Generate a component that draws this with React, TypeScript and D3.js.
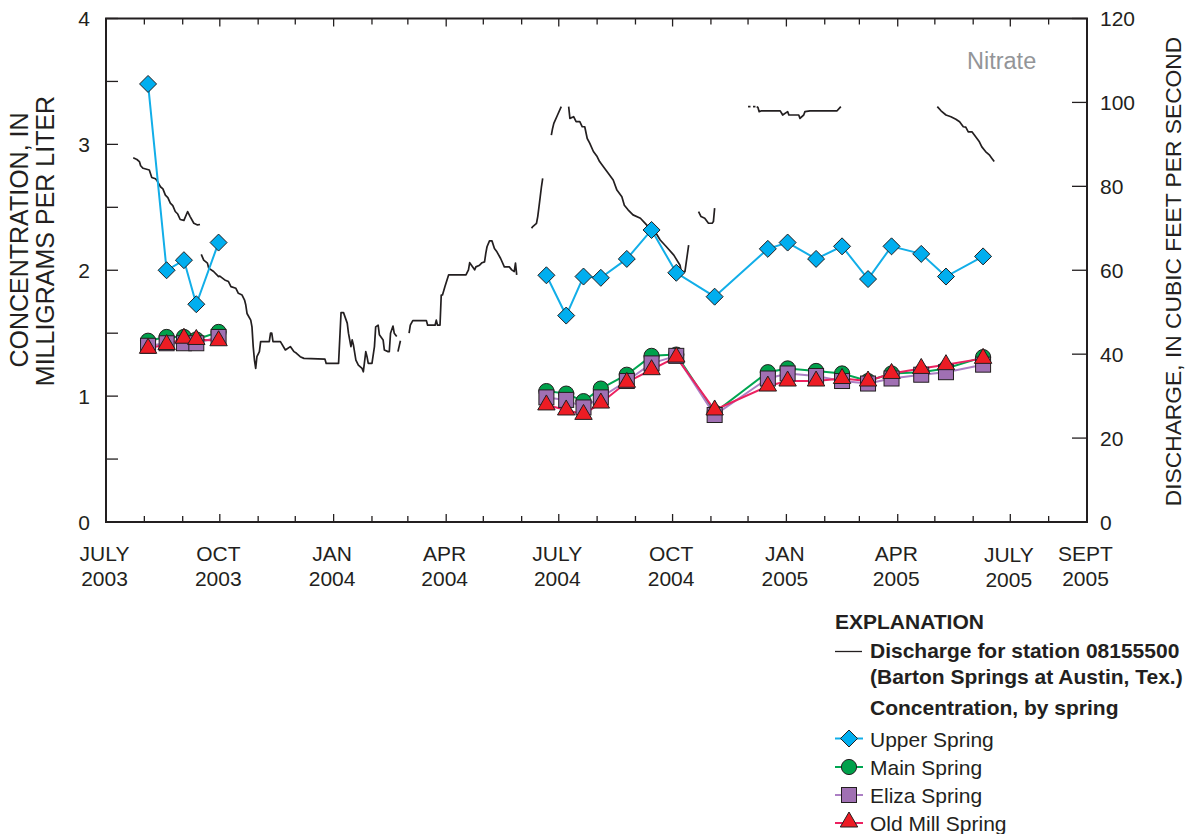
import React from "react";
import * as d3 from "d3";

const WIDTH = 1185;
const HEIGHT = 834;
const FONT = "'Liberation Sans', Arial, Helvetica, sans-serif";
const INK = "#231F20";

// Sampling dates for the spring-water samples
const samplingDates2003 = ["2003-08-04", "2003-08-19", "2003-09-02", "2003-09-12", "2003-09-30"];
const samplingDates2004 = [
  "2004-06-21", "2004-07-07", "2004-07-21", "2004-08-04", "2004-08-25", "2004-09-14",
  "2004-10-04", "2004-11-04", "2004-12-17", "2005-01-02", "2005-01-25", "2005-02-15",
  "2005-03-08", "2005-03-27", "2005-04-20", "2005-05-10", "2005-06-09",
];

// Nitrate concentration, in milligrams per liter
const upperSpring2003 = [3.48, 2.0, 2.08, 1.73, 2.22];
const mainSpring2003 = [1.44, 1.47, 1.47, 1.45, 1.51];
const elizaSpring2003 = [1.4, 1.42, 1.42, 1.42, 1.47];
const oldMillSpring2003 = [1.38, 1.41, 1.46, 1.45, 1.44];

const upperSpring2004 = [1.96, 1.64, 1.95, 1.94, 2.09, 2.32, 1.98, 1.79, 2.17, 2.22, 2.09, 2.19, 1.93, 2.19, 2.13, 1.95, 2.11];
const mainSpring2004 = [1.04, 1.02, 0.96, 1.06, 1.17, 1.32, 1.33, 0.87, 1.19, 1.22, 1.2, 1.18, 1.12, 1.18, 1.19, 1.22, 1.31];
const elizaSpring2004 = [0.99, 0.97, 0.91, 0.99, 1.12, 1.26, 1.32, 0.85, 1.14, 1.18, 1.16, 1.12, 1.1, 1.14, 1.17, 1.19, 1.25];
const oldMillSpring2004 = [0.93, 0.89, 0.855, 0.945, 1.11, 1.21, 1.31, 0.89, 1.08, 1.12, 1.12, 1.14, 1.12, 1.18, 1.22, 1.25, 1.3];

// Discharge at station 08155500, cubic feet per second (gaps = missing record)
const dischargeSummer2003: [string, number][] = [
  ["2003-07-23", 86.8], ["2003-07-26", 86.4], ["2003-07-28", 85.9], ["2003-07-29", 84.9], ["2003-07-31", 84.3],
  ["2003-08-05", 83.9], ["2003-08-07", 82.1], ["2003-08-10", 81.8], ["2003-08-11", 81.5], ["2003-08-14", 79.9],
  ["2003-08-16", 79.4], ["2003-08-18", 77.9], ["2003-08-20", 77.3], ["2003-08-22", 76.0], ["2003-08-24", 75.4],
  ["2003-08-26", 74.0], ["2003-08-28", 73.4], ["2003-08-30", 72.1], ["2003-09-02", 71.9], ["2003-09-05", 74.0],
  ["2003-09-07", 72.8], ["2003-09-10", 71.2], ["2003-09-13", 70.8], ["2003-09-15", 70.9],
];
const dischargeWinter2003: [string, number][] = [
  ["2003-09-16", 63.8], ["2003-09-18", 62.4], ["2003-09-21", 61.7], ["2003-09-22", 60.5], ["2003-09-26", 59.7],
  ["2003-09-30", 58.5], ["2003-10-01", 58.6], ["2003-10-05", 57.7], ["2003-10-08", 57.3], ["2003-10-10", 56.1],
  ["2003-10-14", 55.7], ["2003-10-16", 54.5], ["2003-10-19", 54.1], ["2003-10-21", 52.9], ["2003-10-22", 51.7],
  ["2003-10-23", 49.7], ["2003-10-26", 48.1], ["2003-10-27", 46.5], ["2003-10-28", 41.8], ["2003-10-29", 38.6],
  ["2003-10-30", 36.6], ["2003-10-31", 39.4], ["2003-11-02", 40.6], ["2003-11-03", 43.0], ["2003-11-10", 43.0],
  ["2003-11-11", 45.0], ["2003-11-12", 45.0], ["2003-11-13", 43.0], ["2003-11-19", 43.0], ["2003-11-23", 41.0],
  ["2003-11-27", 41.8], ["2003-11-30", 40.6], ["2003-12-02", 40.2], ["2003-12-05", 39.4], ["2003-12-08", 39.0],
  ["2003-12-25", 38.8], ["2003-12-26", 37.8], ["2004-01-05", 37.8], ["2004-01-07", 49.9], ["2004-01-09", 49.9],
  ["2004-01-12", 47.4], ["2004-01-13", 45.0], ["2004-01-15", 41.8], ["2004-01-16", 43.4], ["2004-01-17", 42.2],
  ["2004-01-19", 38.6], ["2004-01-21", 37.4], ["2004-01-24", 36.6], ["2004-01-25", 35.8], ["2004-01-27", 40.6],
  ["2004-01-28", 39.4], ["2004-01-29", 37.8], ["2004-02-01", 37.8], ["2004-02-03", 41.8], ["2004-02-04", 46.5],
  ["2004-02-06", 46.9], ["2004-02-07", 44.6], ["2004-02-10", 43.4], ["2004-02-11", 41.0], ["2004-02-14", 40.6],
  ["2004-02-15", 40.6], ["2004-02-16", 45.0], ["2004-02-18", 46.7], ["2004-02-19", 45.0], ["2004-02-21", 44.2],
];
const dischargeLateFeb2004: [string, number][] = [["2004-02-22", 40.6], ["2004-02-24", 43.2]];
const dischargeSpring2004: [string, number][] = [
  ["2004-03-02", 45.0], ["2004-03-03", 46.9], ["2004-03-05", 48.0], ["2004-03-16", 48.0], ["2004-03-17", 46.9],
  ["2004-03-23", 46.9], ["2004-03-24", 48.1], ["2004-03-25", 46.9], ["2004-03-27", 46.9], ["2004-03-28", 54.1],
  ["2004-03-29", 54.1], ["2004-03-31", 56.1], ["2004-04-03", 58.9], ["2004-04-17", 58.9], ["2004-04-19", 60.1],
  ["2004-04-20", 61.8], ["2004-04-24", 60.1], ["2004-04-25", 60.8], ["2004-04-28", 61.2], ["2004-04-30", 61.8],
  ["2004-05-02", 62.0], ["2004-05-03", 64.0], ["2004-05-04", 65.6], ["2004-05-06", 67.0], ["2004-05-08", 67.0],
  ["2004-05-10", 65.2], ["2004-05-12", 64.4], ["2004-05-15", 62.8], ["2004-05-18", 60.8], ["2004-05-22", 60.8],
  ["2004-05-24", 60.1], ["2004-05-26", 59.7], ["2004-05-27", 61.7], ["2004-05-28", 58.9],
];
const dischargeJune2004: [string, number][] = [
  ["2004-06-09", 70.0], ["2004-06-10", 70.4], ["2004-06-13", 71.2], ["2004-06-14", 72.8], ["2004-06-15", 75.1],
  ["2004-06-16", 77.5], ["2004-06-17", 79.9], ["2004-06-18", 81.9],
];
const dischargeLateJune2004: [string, number][] = [
  ["2004-06-25", 92.2], ["2004-06-26", 93.8], ["2004-06-27", 95.0], ["2004-06-30", 97.0], ["2004-07-03", 99.0],
];
const dischargeSummer2004: [string, number][] = [
  ["2004-07-09", 99.0], ["2004-07-10", 96.2], ["2004-07-13", 96.6], ["2004-07-15", 95.4], ["2004-07-18", 95.4],
  ["2004-07-20", 94.2], ["2004-07-22", 94.2], ["2004-07-24", 91.4], ["2004-07-26", 90.3], ["2004-07-29", 88.3],
  ["2004-08-01", 87.1], ["2004-08-03", 85.9], ["2004-08-07", 84.3], ["2004-08-10", 83.1], ["2004-08-14", 81.5],
  ["2004-08-17", 79.1], ["2004-08-21", 77.5], ["2004-08-23", 75.5], ["2004-08-26", 74.4], ["2004-08-30", 73.2],
  ["2004-09-05", 72.4], ["2004-09-10", 70.8], ["2004-09-16", 69.6], ["2004-09-21", 67.2], ["2004-09-26", 65.6],
  ["2004-10-02", 63.6], ["2004-10-07", 61.2], ["2004-10-08", 59.7], ["2004-10-11", 59.7], ["2004-10-14", 66.0],
];
const dischargeLateOct2004: [string, number][] = [
  ["2004-10-22", 74.0], ["2004-10-24", 72.8], ["2004-10-27", 72.4], ["2004-10-30", 71.2], ["2004-11-02", 71.2],
  ["2004-11-03", 71.6], ["2004-11-04", 74.8],
];
const dischargeEarlyDec2004a: [string, number][] = [["2004-12-01", 99.0], ["2004-12-03", 99.0]];
const dischargeEarlyDec2004b: [string, number][] = [["2004-12-05", 99.0], ["2004-12-07", 99.0]];
const dischargeWinter2004: [string, number][] = [
  ["2004-12-08", 99.0], ["2004-12-09", 98.8], ["2004-12-10", 97.8], ["2004-12-12", 98.0], ["2004-12-27", 98.0],
  ["2004-12-29", 97.0], ["2005-01-02", 97.8], ["2005-01-03", 97.0], ["2005-01-11", 97.0], ["2005-01-12", 96.2],
  ["2005-01-15", 97.0], ["2005-01-16", 97.8], ["2005-01-20", 98.0], ["2005-02-11", 98.0], ["2005-02-14", 99.0],
];
const dischargeSpring2005: [string, number][] = [
  ["2005-05-03", 99.0], ["2005-05-06", 98.0], ["2005-05-10", 97.0], ["2005-05-14", 96.6], ["2005-05-18", 96.0],
  ["2005-05-21", 95.4], ["2005-05-24", 94.2], ["2005-05-26", 94.1], ["2005-05-28", 93.0], ["2005-05-31", 93.0],
  ["2005-06-03", 91.8], ["2005-06-06", 90.6], ["2005-06-08", 89.4], ["2005-06-11", 88.3], ["2005-06-14", 87.5],
  ["2005-06-16", 86.7], ["2005-06-18", 85.9],
];

const dischargeSegments = [
  dischargeSummer2003, dischargeWinter2003, dischargeLateFeb2004, dischargeSpring2004,
  dischargeJune2004, dischargeLateJune2004, dischargeSummer2004, dischargeLateOct2004,
  dischargeEarlyDec2004a, dischargeEarlyDec2004b, dischargeWinter2004, dischargeSpring2005,
];

// Axis ticks and labels
const concentrationLabels = [0, 1, 2, 3, 4];
const dischargeLabels = [0, 20, 40, 60, 80, 100, 120];
const xLabelDates = [
  "2003-07-01", "2003-10-01", "2004-01-01", "2004-04-01", "2004-07-01",
  "2004-10-01", "2005-01-01", "2005-04-01", "2005-07-01", "2005-09-01",
];
const xLabelMonths = ["JULY", "OCT", "JAN", "APR", "JULY", "OCT", "JAN", "APR", "JULY", "SEPT"];
const xLabelYears = ["2003", "2003", "2004", "2004", "2004", "2004", "2005", "2005", "2005", "2005"];

const parse = d3.timeParse("%Y-%m-%d");

const COLORS = {
  upper: "#00AEEF",
  upperLine: "#12AEE8",
  main: "#00A14B",
  mainLine: "#00A651",
  eliza: "#A070B3",
  elizaLine: "#AC7FC4",
  oldMill: "#ED1C24",
  oldMillLine: "#EC2160",
};

// plot frame
const LEFT = 106;
const RIGHT = 1087;
const TOP = 18.5;
const BOTTOM = 522;

const x = d3.scaleTime().domain([parse("2003-07-01")!, parse("2005-09-01")!]).range([LEFT, RIGHT]);
const yConc = d3.scaleLinear().domain([0, 4]).range([BOTTOM, TOP]);
const yQ = d3.scaleLinear().domain([0, 120]).range([BOTTOM, TOP]);

type Pt = { date: Date; value: number };
const toPts = (dates: string[], vals: number[]): Pt[] => vals.map((v, i) => ({ date: parse(dates[i])!, value: v }));

const concLine = d3
  .line<Pt>()
  .x((d) => x(d.date))
  .y((d) => yConc(d.value));

const qLine = d3
  .line<[string, number]>()
  .x((d) => x(parse(d[0])!))
  .y((d) => yQ(d[1]));

// marker shapes
const diamondPath = (cx: number, cy: number, r = 8.5) =>
  `M${cx},${cy - r}L${cx + r},${cy}L${cx},${cy + r}L${cx - r},${cy}Z`;
const trianglePath = (cx: number, cy: number) =>
  `M${cx},${cy - 10}L${cx + 8.7},${cy + 5}L${cx - 8.7},${cy + 5}Z`;

const Diamond = ({ cx, cy }: { cx: number; cy: number }) => (
  <path d={diamondPath(cx, cy)} fill={COLORS.upper} stroke={INK} strokeWidth={1} />
);
const Circle = ({ cx, cy }: { cx: number; cy: number }) => (
  <circle cx={cx} cy={cy} r={7.6} fill={COLORS.main} stroke={INK} strokeWidth={1} />
);
const Square = ({ cx, cy }: { cx: number; cy: number }) => (
  <rect x={cx - 7.5} y={cy - 7.5} width={15} height={15} fill={COLORS.eliza} stroke={INK} strokeWidth={1} />
);
const Triangle = ({ cx, cy }: { cx: number; cy: number }) => (
  <path d={trianglePath(cx, cy)} fill={COLORS.oldMill} stroke={INK} strokeWidth={1} />
);

type Series = { key: string; lineColor: string; periods: Pt[][]; Marker: React.FC<{ cx: number; cy: number }> };

const series: Series[] = [
  {
    key: "main",
    lineColor: COLORS.mainLine,
    periods: [toPts(samplingDates2003, mainSpring2003), toPts(samplingDates2004, mainSpring2004)],
    Marker: Circle,
  },
  {
    key: "eliza",
    lineColor: COLORS.elizaLine,
    periods: [toPts(samplingDates2003, elizaSpring2003), toPts(samplingDates2004, elizaSpring2004)],
    Marker: Square,
  },
  {
    key: "oldmill",
    lineColor: COLORS.oldMillLine,
    periods: [toPts(samplingDates2003, oldMillSpring2003), toPts(samplingDates2004, oldMillSpring2004)],
    Marker: Triangle,
  },
];

const upperPeriods = [toPts(samplingDates2003, upperSpring2003), toPts(samplingDates2004, upperSpring2004)];

export default function App() {
  const months = d3.timeMonth.range(parse("2003-07-01")!, parse("2005-09-02")!);
  const halfSteps = d3.range(0, 4.01, 0.5);

  const textStyle = { fontFamily: FONT, fill: INK } as const;

  return (
    <div style={{ position: "absolute", left: 0, top: 0 }}>
      <svg width={WIDTH} height={HEIGHT} viewBox={`0 0 ${WIDTH} ${HEIGHT}`} style={{ display: "block", background: "#fff" }}>
        {/* discharge record */}
        <g fill="none" stroke={INK} strokeWidth={1.7} strokeLinejoin="round">
          {dischargeSegments.map((seg, i) => (
            <path key={i} d={qLine(seg) ?? ""} />
          ))}
        </g>

        {/* Upper Spring */}
        <g>
          {upperPeriods.map((p, i) => (
            <path key={i} d={concLine(p) ?? ""} fill="none" stroke={COLORS.upperLine} strokeWidth={2} />
          ))}
          {upperPeriods.flat().map((d, i) => (
            <Diamond key={i} cx={x(d.date)} cy={yConc(d.value)} />
          ))}
        </g>

        {/* other springs: lines first, then markers */}
        <g>
          {series.map((s) =>
            s.periods.map((p, i) => (
              <path key={s.key + i} d={concLine(p) ?? ""} fill="none" stroke={s.lineColor} strokeWidth={2} />
            ))
          )}
          {series.map((s) =>
            s.periods.flat().map((d, i) => <s.Marker key={s.key + "m" + i} cx={x(d.date)} cy={yConc(d.value)} />)
          )}
        </g>

        {/* frame */}
        <rect x={LEFT} y={TOP} width={RIGHT - LEFT} height={BOTTOM - TOP} fill="none" stroke={INK} strokeWidth={2} />

        {/* month ticks, bottom and top */}
        <g stroke={INK} strokeWidth={1.3}>
          {months.map((m, i) => {
            const len = m.getMonth() % 3 === 0 ? 8 : 6;
            const xx = x(m);
            return (
              <g key={i}>
                <line x1={xx} x2={xx} y1={BOTTOM} y2={BOTTOM - len} />
                <line x1={xx} x2={xx} y1={TOP} y2={TOP + len} />
              </g>
            );
          })}
          {halfSteps.map((v, i) => (
            <line key={"l" + i} x1={LEFT} x2={LEFT + 12} y1={yConc(v)} y2={yConc(v)} />
          ))}
          {dischargeLabels.map((v, i) => (
            <line key={"r" + i} x1={RIGHT - 15} x2={RIGHT} y1={yQ(v)} y2={yQ(v)} />
          ))}
        </g>

        {/* left tick labels */}
        <g {...textStyle} fontSize={21} textAnchor="end">
          {concentrationLabels.map((v) => (
            <text key={v} x={90} y={yConc(v) + 7.5}>
              {v}
            </text>
          ))}
        </g>
        {/* right tick labels */}
        <g {...textStyle} fontSize={21} textAnchor="start">
          {dischargeLabels.map((v) => (
            <text key={v} x={1100} y={yQ(v) + 7.5}>
              {v}
            </text>
          ))}
        </g>
        {/* date labels */}
        <g {...textStyle} fontSize={21} textAnchor="middle">
          {xLabelDates.map((d, i) => {
            const xx = x(parse(d)!) - 1.5;
            const dy = i === 8 ? 1.5 : 0;
            return (
              <g key={d}>
                <text x={xx} y={560.5 + dy}>
                  {xLabelMonths[i]}
                </text>
                <text x={xx} y={585.5 + dy}>
                  {xLabelYears[i]}
                </text>
              </g>
            );
          })}
        </g>

        {/* axis titles */}
        <g {...textStyle} textAnchor="middle">
          <text fontSize={25} transform="translate(27.5,240) rotate(-90)">CONCENTRATION, IN</text>
          <text fontSize={25} transform="translate(53.5,241) rotate(-90)">MILLIGRAMS PER LITER</text>
          <text fontSize={22.8} transform="translate(1181,271.5) rotate(-90)">DISCHARGE, IN CUBIC FEET PER SECOND</text>
        </g>

        <text x={967} y={69} fontFamily={FONT} fontSize={23.5} fill="#939598">
          Nitrate
        </text>

        {/* explanation */}
        <g {...textStyle} fontSize={21}>
          <text x={835} y={629} fontWeight="bold">
            EXPLANATION
          </text>
          <line x1={835} x2={862} y1={651.5} y2={651.5} stroke={INK} strokeWidth={1.3} />
          <text x={870} y={658} fontWeight="bold">
            Discharge for station 08155500
          </text>
          <text x={870} y={683.5} fontWeight="bold">
            (Barton Springs at Austin, Tex.)
          </text>
          <text x={870} y={715} fontWeight="bold">
            Concentration, by spring
          </text>

          <line x1={835} x2={863} y1={738.5} y2={738.5} stroke={COLORS.upperLine} strokeWidth={2} />
          <Diamond cx={849} cy={738.5} />
          <text x={870} y={747}>Upper Spring</text>

          <line x1={835} x2={863} y1={767} y2={767} stroke={COLORS.mainLine} strokeWidth={2} />
          <Circle cx={849} cy={767} />
          <text x={870} y={775}>Main Spring</text>

          <line x1={835} x2={863} y1={795} y2={795} stroke={COLORS.elizaLine} strokeWidth={2} />
          <Square cx={849} cy={795} />
          <text x={870} y={803}>Eliza Spring</text>

          <line x1={835} x2={863} y1={823} y2={823} stroke={COLORS.oldMillLine} strokeWidth={2} />
          <Triangle cx={849} cy={822} />
          <text x={870} y={830.5}>Old Mill Spring</text>
        </g>
      </svg>
    </div>
  );
}
